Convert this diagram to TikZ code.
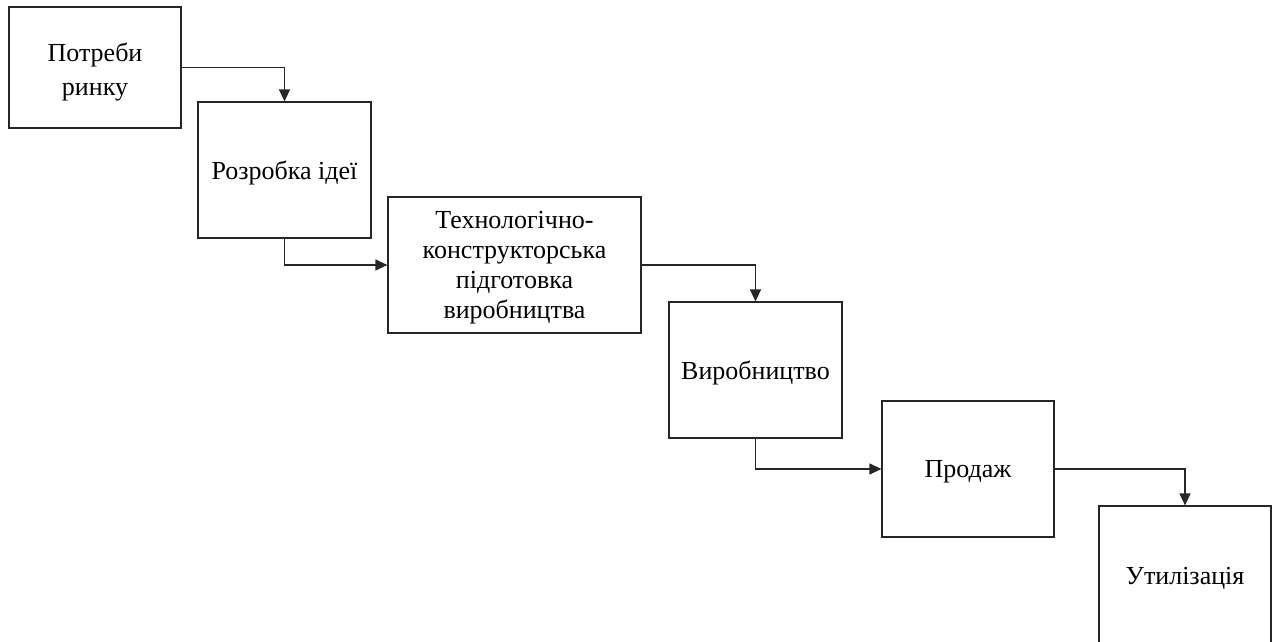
\documentclass[tikz,border=0pt]{standalone}
\usepackage{fontspec}
\setmainfont{Liberation Serif}
\usetikzlibrary{arrows.meta}
\begin{document}
\begin{tikzpicture}[x=1pt,y=-1pt,
  stage/.style={draw=black!85,line width=1.2pt,rectangle,inner sep=0pt},
  caption/.style={align=center,inner sep=0pt,yshift=-3pt,
    font=\fontsize{26}{30}\selectfont},
  link/.style={draw=black!85,line width=1.2pt,
    -{Triangle[length=12pt,width=11pt]}}]
\useasboundingbox (0,0) rectangle (1278,641);
\node[stage,minimum width=172pt,minimum height=121pt,
  label={[caption,font=\fontsize{26}{34}\selectfont,yshift=-1pt]center:Потреби\\ринку}] (b1) at (95,67.5) {};
\node[stage,minimum width=173pt,minimum height=136pt,
  label={[caption]center:Розробка ідеї}] (b2) at (284.5,170) {};
\node[stage,minimum width=253pt,minimum height=136pt,
  label={[caption]center:Технологічно-\\конструкторська\\підготовка\\виробництва}] (b3) at (514.5,265) {};
\node[stage,minimum width=173pt,minimum height=136pt,
  label={[caption]center:Виробництво}] (b4) at (755.5,370) {};
\node[stage,minimum width=172pt,minimum height=136pt,
  label={[caption]center:Продаж}] (b5) at (968,469) {};
\node[stage,minimum width=172pt,minimum height=138pt,
  label={[caption]center:Утилізація}] (b6) at (1185,575) {};
\draw[link] (b1.east) -| (b2.north);
\draw[link] (b2.south) |- (b3.west);
\draw[link] (b3.east) -| (b4.north);
\draw[link] (b4.south) |- (b5.west);
\draw[link] (b5.east) -| (b6.north);
\end{tikzpicture}
\end{document}
